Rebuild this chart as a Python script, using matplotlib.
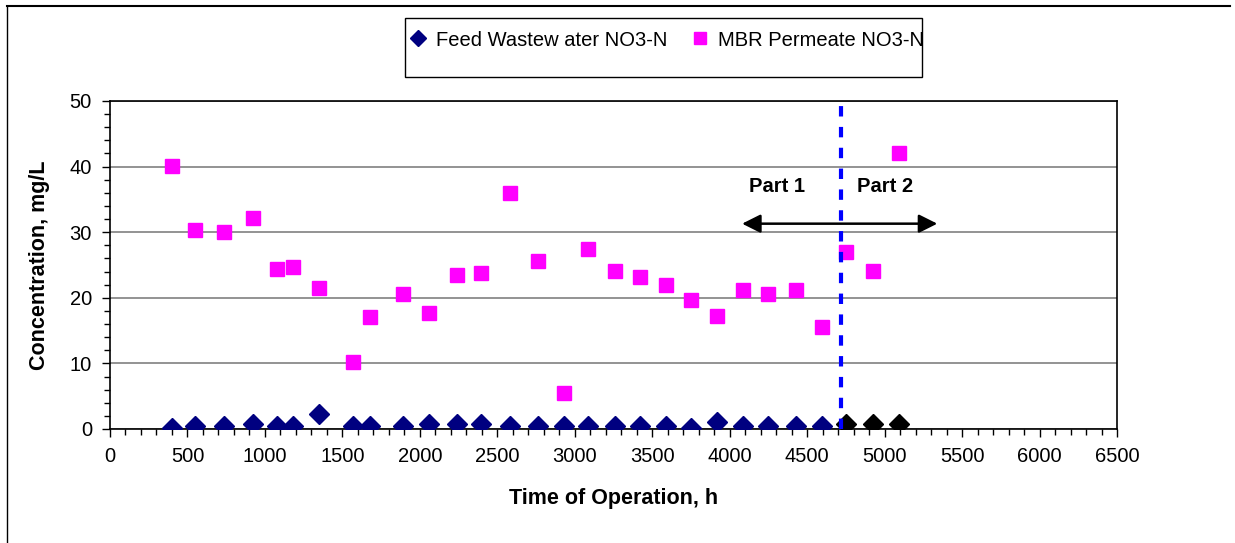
import matplotlib
matplotlib.use("Agg")
import matplotlib.pyplot as plt
from matplotlib.patches import Rectangle
from matplotlib.lines import Line2D
from matplotlib.ticker import MultipleLocator

plt.rcParams['font.family'] = ['Liberation Sans', 'DejaVu Sans']

# time of operation, h
hours = [400, 549, 736, 923, 1078, 1181, 1349, 1569, 1678, 1891, 2059, 2240, 2395,
         2582, 2763, 2931, 3086, 3260, 3422, 3589, 3751, 3919, 4087, 4248, 4429,
         4596, 4752, 4926, 5094]
# MBR permeate NO3-N, mg/L
permeate = [40.1, 30.3, 30.0, 32.2, 24.4, 24.7, 21.5, 10.2, 17.1, 20.6, 17.7, 23.5, 23.8,
            36.0, 25.6, 5.5, 27.4, 24.1, 23.2, 22.0, 19.6, 17.2, 21.2, 20.6, 21.2,
            15.5, 27.0, 24.1, 42.0]
# feed wastewater NO3-N, mg/L
feed = [0.2, 0.5, 0.5, 0.8, 0.5, 0.5, 2.3, 0.5, 0.5, 0.5, 0.8, 0.8, 0.8,
        0.5, 0.5, 0.5, 0.5, 0.5, 0.5, 0.5, 0.2, 1.1, 0.5, 0.5, 0.5,
        0.5, 0.8, 0.8, 0.8]
n_part1 = 26          # first 26 feed points navy, the rest black
split_h = 4720        # boundary Part 1 / Part 2
arrow_span = (4080, 5340)

fig = plt.figure(figsize=(12.35, 5.43), dpi=100)
ax = fig.add_axes([110/1235, 114/543, 1007/1235, 328/543])

ax.plot(hours, permeate, 's', color='#FF00FF', markersize=10.5, zorder=3)
ax.plot(hours[:n_part1], feed[:n_part1], 'D', color='#000080', markersize=10.5, zorder=3)
ax.plot(hours[n_part1:], feed[n_part1:], 'D', color='black', markersize=10.5, zorder=3)

ax.axvline(split_h, color='#0000FF', lw=3, ls=(0, (2.5, 2.5)), zorder=4)
ax.annotate('', xy=(arrow_span[0], 31.3), xytext=(arrow_span[1], 31.3),
            arrowprops=dict(arrowstyle='<|-|>', color='black', lw=1.8,
                            mutation_scale=28, shrinkA=0, shrinkB=0))
ax.text(4306, 37, 'Part 1', fontsize=14.5, fontweight='bold', ha='center', va='center')
ax.text(5003, 37, 'Part 2', fontsize=14.5, fontweight='bold', ha='center', va='center')

ax.set_xlim(0, 6500)
ax.set_ylim(0, 50)
ax.xaxis.set_major_locator(MultipleLocator(500))
ax.xaxis.set_minor_locator(MultipleLocator(100))
ax.yaxis.set_major_locator(MultipleLocator(10))
ax.yaxis.set_minor_locator(MultipleLocator(2))
ax.tick_params(axis='both', which='major', labelsize=14.5, length=6, width=1, direction='out', pad=7)
ax.tick_params(axis='both', which='minor', length=4, width=1, direction='out')
ax.grid(axis='y', which='major', color='#808080', lw=1.2)
ax.set_axisbelow(True)
for s in ax.spines.values():
    s.set_color('black')
    s.set_linewidth(1.2)

ax.set_xlabel('Time of Operation, h', fontsize=15.5, fontweight='bold', labelpad=16)
ax.set_ylabel('Concentration, mg/L', fontsize=15.5, fontweight='bold', labelpad=14)

# legend box
fig.patches.append(Rectangle((405/1235, 466/543), 517/1235, 59/543, transform=fig.transFigure,
                             fill=False, edgecolor='black', lw=1))
handles = [Line2D([], [], ls='', marker='D', color='#000080', markersize=8),
           Line2D([], [], ls='', marker='s', color='#FF00FF', markersize=9)]
fig.legend(handles, ['Feed Wastew ater NO3-N', 'MBR Permeate NO3-N'], frameon=False,
           loc='center', bbox_to_anchor=(665/1235, 1 - 40/543), ncol=2, fontsize=14.5,
           handletextpad=0.3, columnspacing=1.0, handlelength=1.2)

# chart area border (left and top visible)
fig.add_artist(Line2D([7/1235, 7/1235], [0, 1 - 6/543], color='black', lw=1, transform=fig.transFigure))
fig.add_artist(Line2D([7/1235, 1230/1235], [1 - 6/543, 1 - 6/543], color='black', lw=1.5, transform=fig.transFigure))

fig.savefig('out.png', dpi=100)
